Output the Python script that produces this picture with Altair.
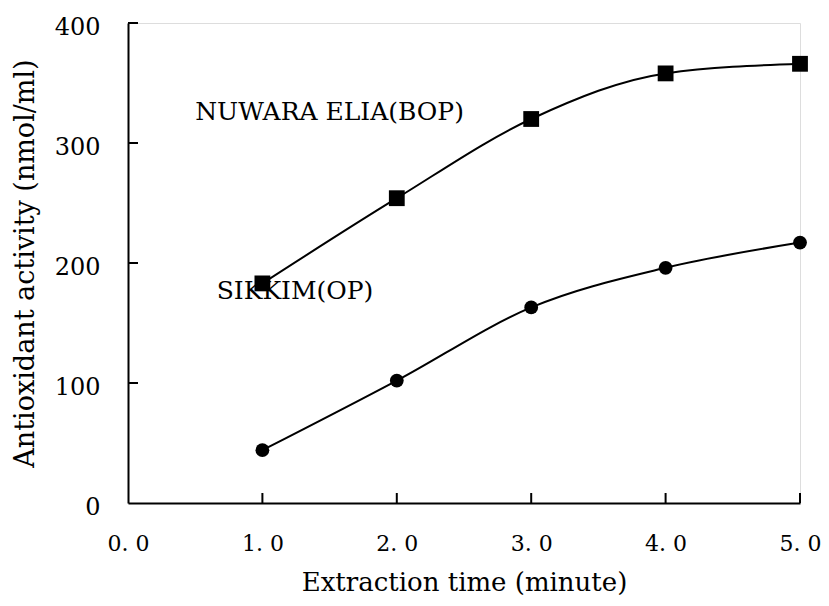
import altair as alt
import pandas as pd

times = [1.0, 2.0, 3.0, 4.0, 5.0]
nuwara = [183, 254, 320, 358, 366]
sikkim = [44, 102, 163, 196, 217]
x_ticks = [1, 2, 3, 4, 5]
y_ticks = [100, 200, 300, 400]
label_text = ["NUWARA ELIA(BOP)", "SIKKIM(OP)"]
label_x = [0.5, 0.66]
label_y = [326, 177]

df = pd.DataFrame({
    "t": times * 2,
    "v": nuwara + sikkim,
    "s": ["NUWARA ELIA(BOP)"] * 5 + ["SIKKIM(OP)"] * 5,
})
labels = pd.DataFrame({"text": label_text, "x": label_x, "y": label_y})
xt = pd.DataFrame({"x": x_ticks})
yt = pd.DataFrame({"y": y_ticks})

W, H = 672, 480
FONT = "DejaVu Serif"

xscale = alt.Scale(domain=[0, 5], nice=False, zero=False)
yscale = alt.Scale(domain=[0, 400], nice=False)

xaxis = alt.Axis(
    title="Extraction time (minute)", values=[0, 1, 2, 3, 4, 5],
    labelExpr="replace(format(datum.value, '.1f'), '.', '. ')",
    tickSize=0, labelPadding=30, titlePadding=15, grid=False,
    labelFlush=False, labelOverlap=False,
    domainColor="black", domainWidth=2,
    labelFont=FONT, labelFontSize=22, labelColor="black",
    titleFont=FONT, titleFontSize=26, titleFontWeight="normal", titleColor="black",
)
yaxis = alt.Axis(
    title="Antioxidant activity (nmol/ml)", values=[0, 100, 200, 300, 400],
    tickSize=0, labelPadding=28, titlePadding=15, grid=False, labelOffset=4,
    labelFlush=False, labelOverlap=False,
    domainColor="black", domainWidth=2,
    labelFont=FONT, labelFontSize=24, labelColor="black",
    titleFont=FONT, titleFontSize=27, titleFontWeight="normal", titleColor="black",
)

base = alt.Chart(df)
lines = base.mark_line(interpolate="monotone", color="black", strokeWidth=2).encode(
    x=alt.X("t:Q", scale=xscale, axis=xaxis),
    y=alt.Y("v:Q", scale=yscale, axis=yaxis),
    detail="s:N",
)
pts = base.mark_point(filled=True, opacity=1, color="black").encode(
    x=alt.X("t:Q", scale=xscale),
    y=alt.Y("v:Q", scale=yscale),
    shape=alt.Shape("s:N", scale=alt.Scale(domain=["NUWARA ELIA(BOP)", "SIKKIM(OP)"],
                                          range=["square", "circle"]), legend=None),
    size=alt.Size("s:N", scale=alt.Scale(domain=["NUWARA ELIA(BOP)", "SIKKIM(OP)"],
                                        range=[250, 190]), legend=None),
)
xtk = alt.Chart(xt).mark_rule(color="black", strokeWidth=2).encode(
    x=alt.X("x:Q", scale=xscale),
    y=alt.value(H),
    y2=alt.value(H - 10),
)
ytk = alt.Chart(yt).mark_rule(color="black", strokeWidth=2).encode(
    y=alt.Y("y:Q", scale=yscale),
    x=alt.value(0),
    x2=alt.value(10),
)
txt = alt.Chart(labels).mark_text(
    align="left", baseline="middle", font=FONT, fontSize=25, color="black"
).encode(
    x=alt.X("x:Q", scale=xscale),
    y=alt.Y("y:Q", scale=yscale),
    text="text:N",
)

chart = alt.layer(lines, xtk, ytk, pts, txt).properties(
    width=W, height=H,
    autosize=alt.AutoSizeParams(type="none"),
    padding={"left": 120, "top": 15, "right": 21, "bottom": 95},
).configure_view(stroke=None).configure(background="white")

chart.save("out.html", embed_options={"renderer": "svg", "actions": False})
